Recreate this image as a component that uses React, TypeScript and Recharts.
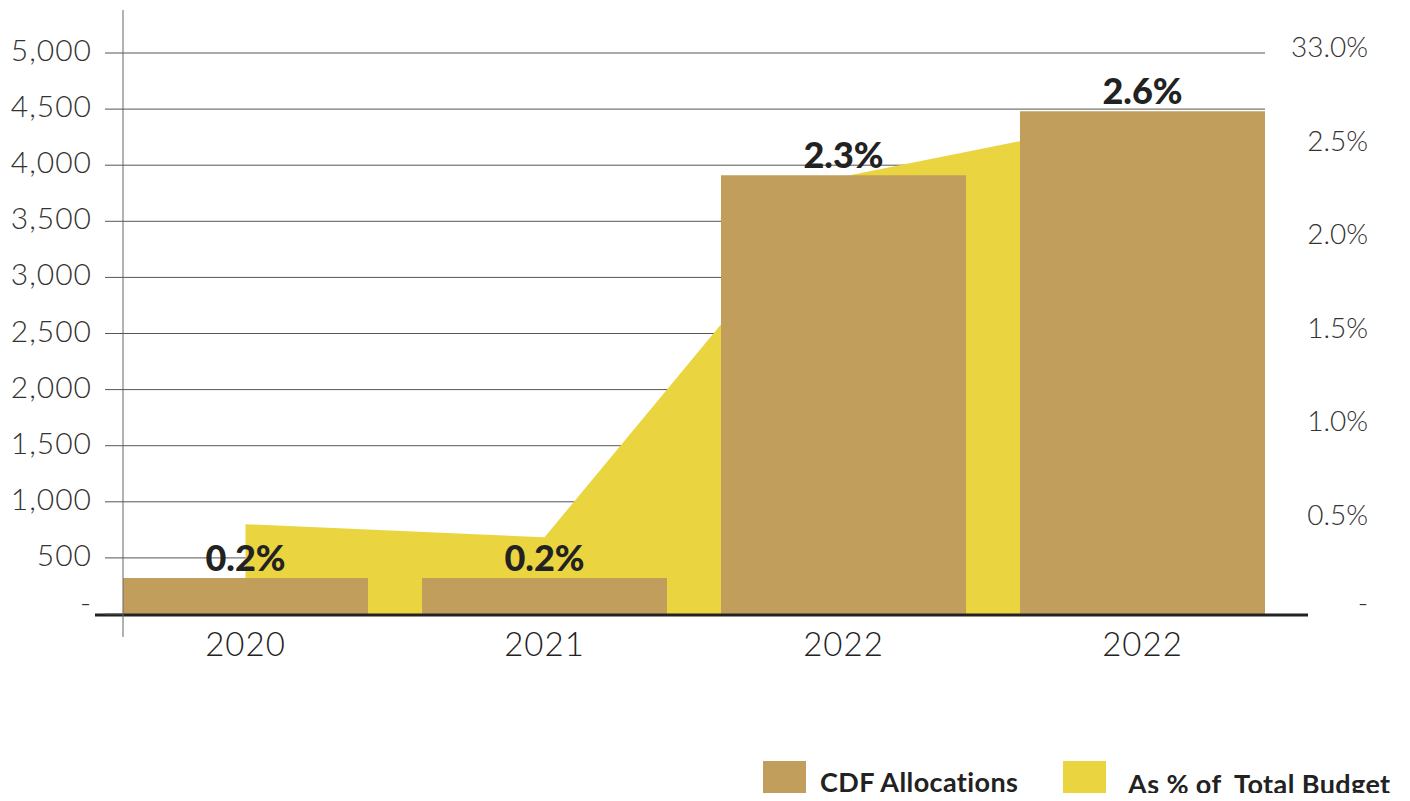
import React from "react";
import {
  ComposedChart,
  Bar,
  Area,
  XAxis,
  YAxis,
  CartesianGrid,
  LabelList,
  ReferenceLine,
  Legend,
} from "recharts";

const years = ["2020", "2021", "2022", "2022"];
const cdfAllocations = [320, 320, 3910, 4480];
const budgetShare = [0.48, 0.41, 2.34, 2.66];
const shareLabels = ["0.2%", "0.2%", "2.3%", "2.6%"];

const leftTicks = [0, 500, 1000, 1500, 2000, 2500, 3000, 3500, 4000, 4500, 5000];
const leftTickLabels = ["-", "500", "1,000", "1,500", "2,000", "2,500", "3,000", "3,500", "4,000", "4,500", "5,000"];
const rightTicks = [0, 0.5, 1, 1.5, 2, 2.5, 3];
const rightTickLabels = ["-", "0.5%", "1.0%", "1.5%", "2.0%", "2.5%", "33.0%"];

const legendNames = ["CDF Allocations", "As % of  Total Budget"];

const BAR_COLOR = "#C29E5D";
const AREA_COLOR = "#EAD540";
const GRID_COLOR = "#555";
const FONT = "Lato, 'Open Sans', sans-serif";

const data = years.map((year, i) => ({
  year,
  cdf: cdfAllocations[i],
  share: budgetShare[i],
  label: shareLabels[i],
}));

const LeftTick = (props: any) => {
  const { x, y, payload } = props;
  const idx = leftTicks.indexOf(payload.value);
  const isZero = payload.value === 0;
  return (
    <text x={x - 13} y={isZero ? y - 1 : y + 8} textAnchor="end" fontFamily={FONT} fontWeight={300} fontSize={30} letterSpacing={1} fill="#333">
      {leftTickLabels[idx]}
    </text>
  );
};

const RightTick = (props: any) => {
  const { x, y, payload } = props;
  const idx = rightTicks.indexOf(payload.value);
  const isZero = payload.value === 0;
  return (
    <text x={x + 90} y={isZero ? y - 1 : y + 4} textAnchor="end" fontFamily={FONT} fontWeight={300} fontSize={28} fill="#333">
      {rightTickLabels[idx]}
    </text>
  );
};

const EmptyTick = () => <g />;

const YearTick = (props: any) => {
  const { x, y, payload } = props;
  return (
    <text x={x} y={y + 19} textAnchor="middle" fontFamily={FONT} fontWeight={300} fontSize={33} letterSpacing={1} fill="#222">
      {payload.value}
    </text>
  );
};

const BarLabel = (props: any) => {
  const { x, y, width, value } = props;
  return (
    <text x={x + width / 2} y={y - 7} textAnchor="middle" fontFamily={FONT} fontWeight={900} fontSize={36} fill="#222">
      {value}
    </text>
  );
};

const renderLegend = () => {
  const colors = [BAR_COLOR, AREA_COLOR];
  return (
    <div style={{ position: "relative", width: 650, height: 40, fontFamily: FONT }}>
      {legendNames.map((name, i) => (
        <div key={name} style={{ position: "absolute", left: i * 300, top: 0, display: "flex", alignItems: "center" }}>
          <div style={{ width: 43, height: 40, background: colors[i] }} />
          <span
            style={{
              marginLeft: i === 0 ? 14 : 22,
              marginTop: i === 0 ? 0 : 4,
              fontSize: 27,
              fontWeight: 700,
              letterSpacing: 0.4,
              color: "#222",
              whiteSpace: "pre",
            }}
          >
            {name}
          </span>
        </div>
      ))}
    </div>
  );
};

export default function App() {
  return (
    <div style={{ margin: -8, width: 1410, height: 801, background: "#fff" }}>
      <ComposedChart width={1410} height={801} data={data} margin={{ top: 10, right: 0, bottom: 124, left: 0 }} barCategoryGap={0}>
        <CartesianGrid yAxisId="left" vertical={false} syncWithTicks stroke={GRID_COLOR} />
        <XAxis
          dataKey="year"
          padding={{ left: -27, right: -27 }}
          axisLine={false}
          tickLine={false}
          tickSize={0}
          tickMargin={0}
          height={40}
          tick={<YearTick />}
        />
        <YAxis
          yAxisId="left"
          domain={[0, 5000]}
          ticks={leftTicks}
          padding={{ top: 43, bottom: 23 }}
          width={123}
          tickSize={18}
          tickMargin={0}
          stroke={GRID_COLOR}
          axisLine={{ stroke: "#666" }}
          tickLine={{ stroke: GRID_COLOR, strokeWidth: 1 }}
          tick={<LeftTick />}
        />
        <YAxis
          yAxisId="grid"
          orientation="right"
          domain={[0, 5000]}
          ticks={leftTicks}
          padding={{ top: 43, bottom: 23 }}
          width={13}
          tickSize={13}
          stroke={GRID_COLOR}
          axisLine={false}
          tickLine={{ stroke: GRID_COLOR, strokeWidth: 1 }}
          tick={<EmptyTick />}
        />
        <YAxis
          yAxisId="right"
          orientation="right"
          domain={[0, 3]}
          ticks={rightTicks}
          padding={{ top: 43, bottom: 23 }}
          width={132}
          tickSize={0}
          tickMargin={0}
          axisLine={false}
          tickLine={false}
          tick={<RightTick />}
        />
        <Area
          yAxisId="right"
          type="linear"
          dataKey="share"
          name={legendNames[1]}
          fill={AREA_COLOR}
          fillOpacity={1}
          stroke="none"
          isAnimationActive={false}
        />
        <Bar yAxisId="left" dataKey="cdf" name={legendNames[0]} fill={BAR_COLOR} barSize={245} isAnimationActive={false}>
          <LabelList dataKey="label" content={<BarLabel />} />
        </Bar>
        <ReferenceLine
          yAxisId="left"
          y={0}
          ifOverflow="visible"
          shape={(p: any) => (
            <line x1={p.x1 - 28} y1={p.y1 + 1} x2={p.x2 + 43} y2={p.y2 + 1} stroke="#222" strokeWidth={3} />
          )}
        />
        <Legend
          layout="horizontal"
          verticalAlign="middle"
          align="center"
          wrapperStyle={{ left: 763, top: 761, width: 650 }}
          content={renderLegend}
        />
      </ComposedChart>
    </div>
  );
}
